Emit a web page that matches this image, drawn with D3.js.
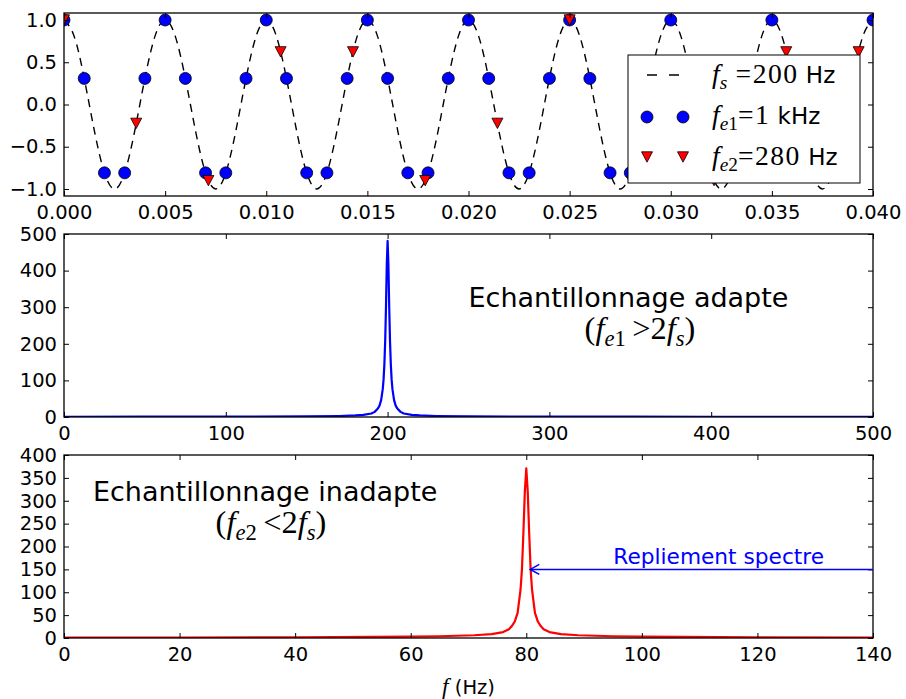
<!DOCTYPE html>
<html><head><meta charset="utf-8">
<script src="https://cdn.jsdelivr.net/npm/d3@7/dist/d3.min.js"></script>
<style>body{margin:0;background:#fff}</style>
</head><body>
<svg id="c" width="906" height="699" xmlns="http://www.w3.org/2000/svg"></svg>
<script>
// ---------------- DATA ----------------
// continuous 200 Hz signal (dashed)
const sineTimes = [0,0.0005,0.001,0.0015,0.002,0.0025,0.003,0.0035,0.004,0.0045,0.005,0.0055,0.006,0.0065,0.007,0.0075,0.008,0.0085,0.009,0.0095,0.01,0.0105,0.011,0.0115,0.012,0.0125,0.013,0.0135,0.014,0.0145,0.015,0.0155,0.016,0.0165,0.017,0.0175,0.018,0.0185,0.019,0.0195,0.02,0.0205,0.021,0.0215,0.022,0.0225,0.023,0.0235,0.024,0.0245,0.025,0.0255,0.026,0.0265,0.027,0.0275,0.028,0.0285,0.029,0.0295,0.03,0.0305,0.031,0.0315,0.032,0.0325,0.033,0.0335,0.034,0.0345,0.035,0.0355,0.036,0.0365,0.037,0.0375,0.038,0.0385,0.039,0.0395,0.04];
const sineVals = [1,0.809,0.309,-0.309,-0.809,-1,-0.809,-0.309,0.309,0.809,
  1,0.809,0.309,-0.309,-0.809,-1,-0.809,-0.309,0.309,0.809,
  1,0.809,0.309,-0.309,-0.809,-1,-0.809,-0.309,0.309,0.809,
  1,0.809,0.309,-0.309,-0.809,-1,-0.809,-0.309,0.309,0.809,
  1,0.809,0.309,-0.309,-0.809,-1,-0.809,-0.309,0.309,0.809,
  1,0.809,0.309,-0.309,-0.809,-1,-0.809,-0.309,0.309,0.809,
  1,0.809,0.309,-0.309,-0.809,-1,-0.809,-0.309,0.309,0.809,
  1,0.809,0.309,-0.309,-0.809,-1,-0.809,-0.309,0.309,0.809,1];
// samples at fe1 = 1 kHz
const blueTimes = [0,0.001,0.002,0.003,0.004,0.005,0.006,0.007,0.008,0.009,0.01,0.011,0.012,0.013,0.014,0.015,0.016,0.017,0.018,0.019,0.02,0.021,0.022,0.023,0.024,0.025,0.026,0.027,0.028,0.029,0.03,0.031,0.032,0.033,0.034,0.035,0.036,0.037,0.038,0.039,0.04];
const blueVals = [1,0.309,-0.809,-0.809,0.309,1,0.309,-0.809,-0.809,0.309,1,0.309,-0.809,-0.809,0.309,1,0.309,-0.809,-0.809,0.309,1,0.309,-0.809,-0.809,0.309,1,0.309,-0.809,-0.809,0.309,1,0.309,-0.809,-0.809,0.309,1,0.309,-0.809,-0.809,0.309,1];
// samples at fe2 = 280 Hz
const redTimes = [0,0.00357,0.00714,0.01071,0.01429,0.01786,0.02143,0.025,0.02857,0.03214,0.03571,0.03929];
const redVals = [1,-0.223,-0.901,0.623,0.623,-0.901,-0.223,1,-0.223,-0.901,0.623,0.623];
// spectrum, fe1 = 1 kHz
const spec1Freq = [0,50,100,150,170,180,185,190,192,194,195,196,197,197.5,198,198.5,199,199.5,200,200.5,201,201.5,202,202.5,203,204,205,206,208,210,215,220,230,250,300,350,400,450,500];
const spec1Mag  = [0.6,0.8,1.0,1.8,2.8,4.2,5.8,9.5,14,23,31,46,76,102,143,206,300,418,481,418,300,206,143,102,76,46,31,23,14,9.5,5.8,4.2,2.8,1.8,1.0,0.8,0.7,0.6,0.5];
// spectrum, fe2 = 280 Hz (aliased at 80 Hz)
const spec2Freq = [0,20,40,60,65,71,74,76,77,77.5,78,78.5,79,79.25,79.5,79.75,80,80.25,80.5,80.75,81,81.5,82,82.5,83,84,86,89,95,100,120,140];
const spec2Mag  = [0.7,0.9,1.4,2.8,3.8,6,8.5,13,19,26,36,55,105,150,230,320,371,320,230,150,105,55,36,26,19,13,8.5,6,3.8,2.8,1.4,0.9];
// ticks
const topXTicks = [0,0.005,0.01,0.015,0.02,0.025,0.03,0.035,0.04];
const topYTicks = [-1,-0.5,0,0.5,1];
const midXTicks = [0,100,200,300,400,500];
const midYTicks = [0,100,200,300,400,500];
const botXTicks = [0,20,40,60,80,100,120,140];
const botYTicks = [0,50,100,150,200,250,300,350,400];
// annotation
const annotTip = [80, 150], annotFrom = [140, 150], annotTextPos = [113.3, 150];

// ---------------- LAYOUT ----------------
const X0 = 64, X1 = 873;
const SANS = "DejaVu Sans", SERIF = "Liberation Serif";
const TICKFS = 19.5;
const MATHSCALE = 1.2;
const svg = d3.select('#c');
svg.append('rect').attr('width',906).attr('height',699).attr('fill','#fff');

function panel(id, yTop, yBot, xDom, yDom, xTicks, yTicks, xFmt, yFmt){
  const x = d3.scaleLinear().domain(xDom).range([X0, X1]);
  const y = d3.scaleLinear().domain(yDom).range([yBot, yTop]);
  const clipId = 'clip-' + id;
  svg.append('clipPath').attr('id', clipId).append('rect')
    .attr('x', X0).attr('y', yTop).attr('width', X1 - X0).attr('height', yBot - yTop);
  const plot = svg.append('g').attr('clip-path', `url(#${clipId})`);
  const axes = svg.append('g');
  const styleAxis = g => {
    g.select('.domain').remove();
    g.selectAll('line').attr('stroke','#000').attr('stroke-width',1);
    g.selectAll('text').attr('font-family', SANS).attr('font-size', TICKFS).attr('fill','#000');
  };
  axes.append('g').attr('transform',`translate(0,${yBot})`)
    .call(d3.axisBottom(x).tickValues(xTicks).tickFormat(xFmt).tickSize(-5).tickPadding(9)).call(styleAxis);
  axes.append('g').attr('transform',`translate(0,${yTop})`)
    .call(d3.axisTop(x).tickValues(xTicks).tickFormat('').tickSize(-5)).call(styleAxis);
  axes.append('g').attr('transform',`translate(${X0},0)`)
    .call(d3.axisLeft(y).tickValues(yTicks).tickFormat(yFmt).tickSize(-5).tickPadding(7)).call(styleAxis);
  axes.append('g').attr('transform',`translate(${X1},0)`)
    .call(d3.axisRight(y).tickValues(yTicks).tickFormat('').tickSize(-5)).call(styleAxis);
  axes.append('rect').attr('x', X0).attr('y', yTop).attr('width', X1 - X0).attr('height', yBot - yTop)
    .attr('fill','none').attr('stroke','#000').attr('stroke-width',1.3);
  return {x, y, plot, axes};
}

// math-like text: parts = [{t, f:'it'|'rm'|'sans', sub:bool}]
function mathText(parent, px, py, parts, fs, anchor, color, ls){
  const t = parent.append('text').attr('x', px).attr('y', py)
    .attr('text-anchor', anchor || 'start').attr('fill', color || '#000').attr('font-size', fs);
  const mfs = fs * MATHSCALE;
  let inSub = false;
  parts.forEach(p => {
    const ts = t.append('tspan').text(p.t);
    ts.attr('font-family', p.f === 'sans' ? SANS : SERIF)
      .attr('font-style', p.f === 'it' ? 'italic' : 'normal')
      .attr('font-size', p.f === 'sans' ? fs : (p.sub ? mfs * 0.7 : mfs));
    if (ls && p.f === 'rm' && !p.sub) ts.attr('letter-spacing', ls);
    if (p.sub) {
      if (!inSub) ts.attr('dy', mfs * 0.22);
      inSub = true;
    } else {
      if (inSub) ts.attr('dy', -mfs * 0.22);
      inSub = false;
    }
  });
  return t;
}

// ---------------- TOP PANEL ----------------
const topP = panel('top', 13, 196, [0, 0.04], [-1.083, 1.083], topXTicks, topYTicks, d3.format('.3f'), d3.format('.1f'));
const sinePts = sineTimes.map((t, i) => [t, sineVals[i]]);
topP.plot.append('path').datum(sinePts)
  .attr('d', d3.line().x(d => topP.x(d[0])).y(d => topP.y(d[1])).curve(d3.curveNatural))
  .attr('fill','none').attr('stroke','#000').attr('stroke-width',1.4).attr('stroke-dasharray','8,6');
const circleSym = d3.symbol().type(d3.symbolCircle).size(Math.PI * 36);
const triPath = 'M-5.5,-5.2L5.5,-5.2L0,5.2Z';
topP.plot.selectAll('path.blue').data(blueTimes.map((t, i) => [t, blueVals[i]])).join('path')
  .attr('class','blue').attr('d', circleSym)
  .attr('transform', d => `translate(${topP.x(d[0])},${topP.y(d[1])})`)
  .attr('fill','#0000ff').attr('stroke','#000').attr('stroke-width',0.8);
topP.plot.selectAll('path.red').data(redTimes.map((t, i) => [t, redVals[i]])).join('path')
  .attr('class','red').attr('d', triPath)
  .attr('transform', d => `translate(${topP.x(d[0])},${topP.y(d[1])})`)
  .attr('fill','#ff0000').attr('stroke','#000').attr('stroke-width',0.8);

// legend
const lg = svg.append('g');
lg.append('rect').attr('x',628).attr('y',55).attr('width',232).attr('height',128)
  .attr('fill','#fff').attr('stroke','#000').attr('stroke-width',1);
lg.append('line').attr('x1',647).attr('x2',683).attr('y1',75).attr('y2',75)
  .attr('stroke','#000').attr('stroke-width',1.4).attr('stroke-dasharray','10,12');
[647, 683].forEach(cx => {
  lg.append('path').attr('d', circleSym).attr('transform',`translate(${cx},117)`)
    .attr('fill','#0000ff').attr('stroke','#000').attr('stroke-width',0.8);
  lg.append('path').attr('d', triPath).attr('transform',`translate(${cx},157)`)
    .attr('fill','#ff0000').attr('stroke','#000').attr('stroke-width',0.8);
});
const LFS = 23, LLS = 1.5;
mathText(lg, 712, 83, [{t:'f',f:'it'},{t:'s',f:'it',sub:true},{t:' =200',f:'rm'},{t:' Hz',f:'sans'}], LFS, 'start', '#000', LLS);
mathText(lg, 712, 124, [{t:'f',f:'it'},{t:'e',f:'it',sub:true},{t:'1',f:'rm',sub:true},{t:'=1',f:'rm'},{t:' kHz',f:'sans'}], LFS, 'start', '#000', LLS);
mathText(lg, 712, 165, [{t:'f',f:'it'},{t:'e',f:'it',sub:true},{t:'2',f:'rm',sub:true},{t:'=280',f:'rm'},{t:' Hz',f:'sans'}], LFS, 'start', '#000', LLS);

// ---------------- MIDDLE PANEL ----------------
const mid = panel('mid', 234, 417, [0, 500], [0, 500], midXTicks, midYTicks, d3.format('d'), d3.format('d'));
mid.plot.append('path').datum(spec1Freq.map((f, i) => [f, spec1Mag[i]]))
  .attr('d', d3.line().x(d => mid.x(d[0])).y(d => mid.y(d[1])))
  .attr('fill','none').attr('stroke','#0000ff').attr('stroke-width',2.2).attr('stroke-linejoin','round');
const TFS = 27;
svg.append('text').attr('x', mid.x(250)).attr('y', mid.y(300)).attr('font-family', SANS).attr('font-size', TFS)
  .attr('fill','#000').text('Echantillonnage adapte');
mathText(svg, 640, mid.y(300) + 32, [{t:'(',f:'rm'},{t:'f',f:'it'},{t:'e',f:'it',sub:true},{t:'1',f:'rm',sub:true},{t:'\u2009>2',f:'rm'},{t:'f',f:'it'},{t:'s',f:'it',sub:true},{t:')',f:'rm'}], TFS, 'middle');

// ---------------- BOTTOM PANEL ----------------
const bot = panel('bot', 455, 638, [0, 140], [0, 400], botXTicks, botYTicks, d3.format('d'), d3.format('d'));
bot.plot.append('path').datum(spec2Freq.map((f, i) => [f, spec2Mag[i]]))
  .attr('d', d3.line().x(d => bot.x(d[0])).y(d => bot.y(d[1])))
  .attr('fill','none').attr('stroke','#ff0000').attr('stroke-width',2.2).attr('stroke-linejoin','round');
svg.append('text').attr('x', bot.x(5)).attr('y', bot.y(300)).attr('font-family', SANS).attr('font-size', TFS)
  .attr('fill','#000').text('Echantillonnage inadapte');
mathText(svg, 271, bot.y(300) + 32, [{t:'(',f:'rm'},{t:'f',f:'it'},{t:'e',f:'it',sub:true},{t:'2',f:'rm',sub:true},{t:'\u2009<2',f:'rm'},{t:'f',f:'it'},{t:'s',f:'it',sub:true},{t:')',f:'rm'}], TFS, 'middle');

// annotation arrow
const tipX = bot.x(annotTip[0]) + 4, ay = bot.y(annotTip[1]);
const ann = svg.append('g').attr('stroke','#0000ff').attr('stroke-width',1.5).attr('fill','none');
ann.append('line').attr('x1', bot.x(annotFrom[0])).attr('y1', bot.y(annotFrom[1])).attr('x2', tipX).attr('y2', ay);
ann.append('path').attr('d', `M${tipX + 9},${ay - 5}L${tipX},${ay}L${tipX + 9},${ay + 5}`);
svg.append('text').attr('x', bot.x(annotTextPos[0])).attr('y', bot.y(annotTextPos[1]) - 5)
  .attr('text-anchor','middle').attr('font-family', SANS).attr('font-size', 21.7).attr('fill','#0000ff')
  .text('Repliement spectre');

// x label
mathText(svg, (X0 + X1) / 2, 694, [{t:'f',f:'it'},{t:' (Hz)',f:'sans'}], TICKFS, 'middle');
</script>
</body></html>
